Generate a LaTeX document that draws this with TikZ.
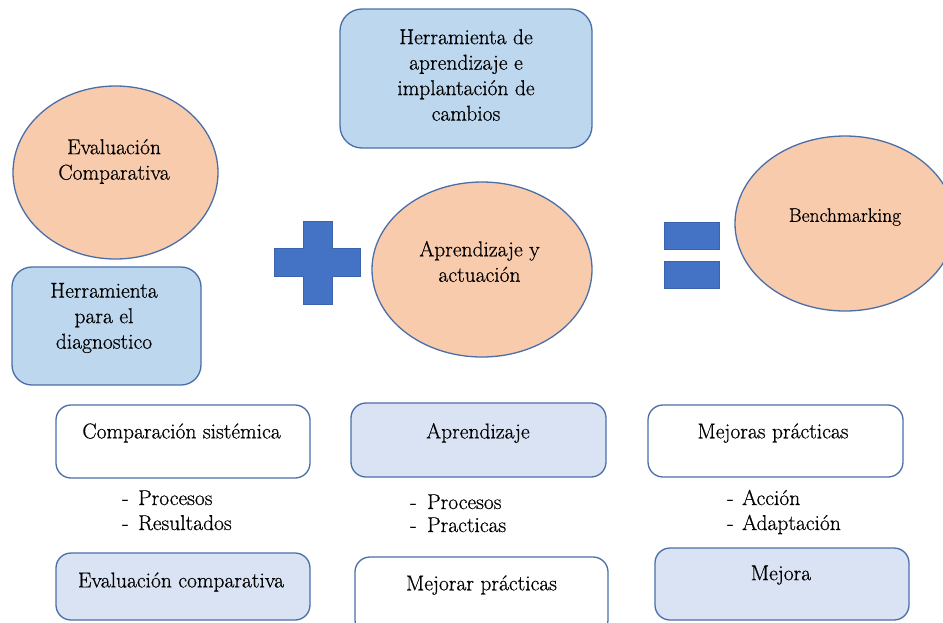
\documentclass[tikz,border=0pt]{standalone}
\usepackage{fontspec}
\newfontfamily\labelfont{Latin Modern Roman}[FakeBold=0.6]
\usetikzlibrary{shapes.geometric}
\definecolor{peach}{HTML}{F8CBAD}
\definecolor{midblue}{HTML}{BDD7EE}
\definecolor{paleblue}{HTML}{DAE3F3}
\definecolor{edgeblue}{HTML}{4A6FA8}
\definecolor{signblue}{HTML}{4472C4}
\definecolor{signedge}{HTML}{3B64AE}
\begin{document}
\begin{tikzpicture}[x=1pt,y=-1pt,
  every node/.style={font=\labelfont\fontsize{21.5}{25.5}\selectfont, text=black},
  oval/.style={ellipse, draw=edgeblue, line width=1.3pt, fill=peach, inner sep=0pt},
  bigbox/.style={rectangle, rounded corners=22pt, draw=edgeblue, line width=1.3pt, fill=midblue, inner sep=0pt},
  rowbox/.style={rectangle, rounded corners=15pt, draw=edgeblue, line width=1.3pt, inner sep=0pt, minimum width=254pt},
  txt/.style={align=center, inner sep=0pt},
  item/.style={anchor=base west, inner sep=0pt},
  sym/.style={fill=signblue, draw=signedge, line width=0.8pt}]
\useasboundingbox (0,0) rectangle (943,622);
\clip (0,0) rectangle (943,622);
\fill[white] (0,0) rectangle (943,622);

% top box
\node[bigbox, minimum width=252pt, minimum height=139pt] (hap) at (466,78.5) {};
\node[txt] (hapt) at (466,75) {Herramienta de\\aprendizaje e\\implantación de\\cambios};

% left column
\node[oval, minimum width=205pt, minimum height=173pt] (ec) at (115.5,172.5) {};
\node[txt] (ect) at (114,161.5) {Evaluación\\Comparativa};
\node[bigbox, rounded corners=20pt, minimum width=189pt, minimum height=118pt] (hd) at (106.5,326) {};
\node[txt] (hdt) at (104,318) {Herramienta\\para el\\diagnostico};

% plus sign
\path[sym] (303,221) -- (332,221) -- (332,248) -- (360,248) -- (360,276) -- (332,276) -- (332,304) -- (303,304) -- (303,276) -- (274,276) -- (274,248) -- (303,248) -- cycle;

% middle ellipse
\node[oval, minimum width=220pt, minimum height=175pt] (aa) at (482,269.5) {};
\node[txt] (aat) at (479.5,261.5) {Aprendizaje y\\actuación};

% equals sign
\path[sym] (664,222) rectangle (719,249);
\path[sym] (664,261) rectangle (719,288);

% right ellipse
\node[oval, minimum width=220pt, minimum height=175pt] (bm) at (845,223.5) {};
\node[txt, font=\labelfont\fontsize{19.5}{24}\selectfont] (bmt) at (845,217) {Benchmarking};

% row boxes
\node[rowbox, fill=white, minimum height=73pt] (cs) at (183,441.5) {};
\node[txt] (cst) at (181.5,433) {Comparación sistémica};
\node[rowbox, fill=paleblue, minimum width=255pt, minimum height=74pt] (ap) at (478.5,440) {};
\node[txt] (apt) at (478,433) {Aprendizaje};
\node[rowbox, fill=white, minimum width=255pt, minimum height=72pt] (mp) at (775.5,441) {};
\node[txt] (mpt) at (773,433) {Mejoras prácticas};

% lists
\node[item] (l1a) at (122,505) {\makebox[16pt][l]{-}Procesos};
\node[item] (l1b) at (122,530) {\makebox[16pt][l]{-}Resultados};
\node[item] (l2a) at (410,509) {\makebox[17pt][l]{-}Procesos};
\node[item] (l2b) at (410,532) {\makebox[17pt][l]{-}Practicas};
\node[item] (l3a) at (727,505) {\makebox[15pt][l]{-}Acción};
\node[item] (l3b) at (727,530) {\makebox[15pt][l]{-}Adaptación};

% bottom boxes
\node[rowbox, fill=paleblue, minimum height=67pt] (ec2) at (183,586.5) {};
\node[txt] (ec2t) at (181,582) {Evaluación comparativa};
\node[rowbox, fill=white, minimum width=253pt, minimum height=78pt] (mj) at (481.5,596) {};
\node[txt] (mjt) at (481.5,585) {Mejorar prácticas};
\node[rowbox, fill=paleblue, minimum height=72pt] (me) at (782,584) {};
\node[txt] (met) at (781,575) {Mejora};
\end{tikzpicture}
\end{document}
